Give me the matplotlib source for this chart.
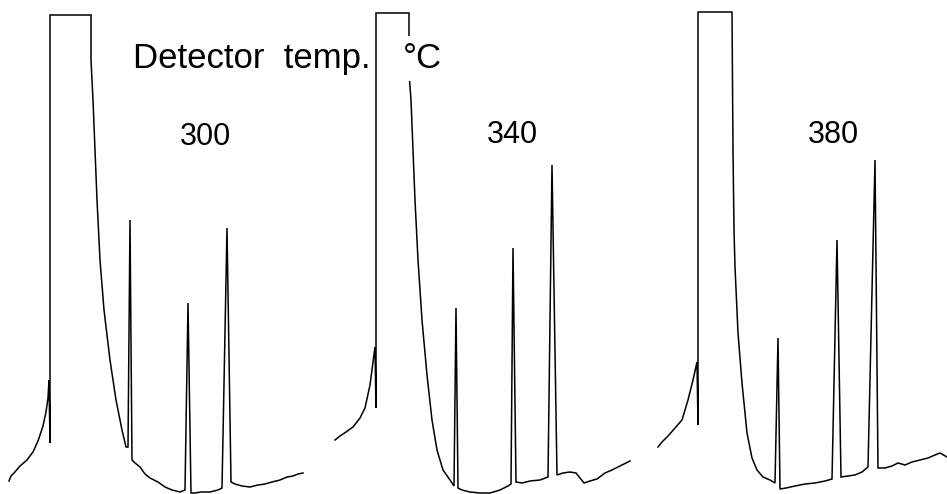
import matplotlib
matplotlib.use("Agg")
import matplotlib.pyplot as plt

# Chromatogram traces (time, response)
t_300 = [9, 11, 14, 20, 27, 33, 38, 43, 46, 48, 49, 50, 50, 91, 91, 93, 95, 97, 100,
         104, 110, 116, 122, 126, 128, 130, 132, 135, 140, 145, 150, 158, 165, 172,
         180, 185, 188, 191, 195, 201, 210, 218, 222, 227, 231, 235, 242, 250, 258,
         265, 272, 280, 287, 293, 298, 303]
r_300 = [13, 18, 21, 28, 34, 42, 53, 68, 82, 96, 114, 51, 479, 479, 434, 394, 344, 294,
         234, 184, 134, 94, 64, 47, 47, 274, 34, 31, 27, 20, 16, 12, 7, 4, 2, 4, 191,
         1, 1, 2, 2, 4, 6, 266, 12, 10, 8, 7, 9, 10, 12, 14, 17, 18, 20, 21]

t_340 = [335, 340, 346, 353, 360, 365, 370, 373, 375, 376, 376, 409, 409, 411, 413,
         415, 418, 422, 427, 432, 437, 443, 450, 454, 456, 458, 462, 470, 480, 490,
         500, 508, 511, 513, 516, 522, 530, 540, 548, 552, 557, 563, 570, 576, 580,
         584, 590, 597, 605, 612, 620, 626, 630]
r_340 = [54, 58, 62, 67, 76, 86, 109, 132, 147, 86, 481, 481, 421, 394, 344, 294, 234,
         174, 119, 74, 44, 24, 14, 8, 186, 6, 4, 2, 1, 1, 4, 8, 10, 246, 12, 11, 13,
         14, 17, 329, 19, 21, 22, 21, 16, 11, 13, 15, 21, 24, 28, 31, 33]

t_380 = [658, 662, 668, 675, 682, 688, 693, 697, 698, 698, 732, 733, 734, 735, 738,
         742, 747, 752, 757, 763, 770, 775, 778, 780, 786, 795, 805, 815, 825, 832,
         837, 841, 848, 855, 862, 868, 875, 878, 885, 892, 898, 905, 912, 920, 928,
         935, 940, 947]
r_380 = [47, 52, 58, 66, 74, 94, 114, 132, 69, 482, 482, 344, 264, 227, 161, 111, 61,
         36, 24, 17, 14, 11, 156, 5, 6, 8, 10, 11, 13, 15, 254, 17, 18, 19, 22, 27,
         334, 26, 26, 28, 31, 29, 32, 34, 36, 39, 41, 37]

temps = ["300", "340", "380"]
traces = [(t_300, r_300), (t_340, r_340), (t_380, r_380)]
label_x = [205, 512, 833]
label_y = [349, 351, 351]

fig = plt.figure(figsize=(9.47, 4.94), dpi=100)
ax = fig.add_axes([0, 0, 1, 1])

for t, r in traces:
    ax.plot(t, r, color="black", lw=1.1, solid_joinstyle="miter")

for name, x, y in zip(temps, label_x, label_y):
    ax.text(x, y, name, ha="center", va="baseline", fontsize=22,
            family="Liberation Sans")

ax.text(133, 426, "Detector  temp.", ha="left", va="baseline", fontsize=25,
        family="Liberation Sans")
ax.text(403, 426, "°C", ha="left", va="baseline", fontsize=25,
        family="Liberation Sans", zorder=5,
        bbox=dict(facecolor="white", edgecolor="none", pad=4))

ax.set_xlim(0, 947)
ax.set_ylim(0, 494)
ax.axis("off")

fig.savefig("out.png", dpi=100)
